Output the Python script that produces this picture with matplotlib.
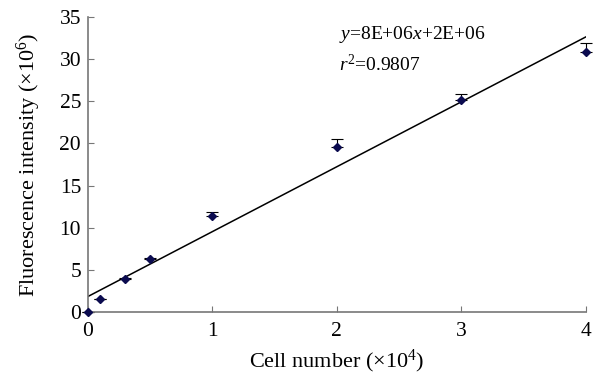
import matplotlib
matplotlib.use('Agg')
import matplotlib.pyplot as plt
import numpy as np

plt.rcParams['font.family'] = ['Liberation Serif', 'DejaVu Serif']
plt.rcParams['mathtext.fontset'] = 'custom'
plt.rcParams['mathtext.rm'] = 'Liberation Serif'
plt.rcParams['mathtext.it'] = 'Liberation Serif:italic'

# cell number (x10^4) and fluorescence (x10^6)
cells = [0, 0.1, 0.3, 0.5, 1, 2, 3, 4]
fluor = [0, 1.5, 3.9, 6.3, 11.4, 19.6, 25.1, 30.8]
err = [0, 0.05, 0.1, 0.15, 0.45, 0.9, 0.7, 1.1]
xticks = [0, 1, 2, 3, 4]
yticks = [0, 5, 10, 15, 20, 25, 30, 35]

fig = plt.figure(figsize=(5.96, 3.75), dpi=100)
ax = fig.add_axes([0.1477, 0.168, 0.835, 0.787])

# upper error bars only
eb = ax.errorbar(cells, fluor, yerr=[np.zeros(len(err)), err], fmt='none',
                 ecolor='black', elinewidth=0.8, capsize=4, capthick=0.8, zorder=2)
for art in eb.get_children():
    art.set_clip_on(False)
ax.plot(cells, fluor, linestyle='none', marker='D', markersize=4.5,
        color='#0b0b4f', zorder=3, clip_on=False)

# linear trend line
k, b = np.polyfit(cells, fluor, 1)
xl = np.array([0, 4])
ax.plot(xl, k * xl + b, color='black', linewidth=1.1, zorder=1)

ax.text(2.02, 32.9, r'$\mathit{y}$=8E+06$\mathit{x}$+2E+06', fontsize=14,
        va='center', ha='left')
ax.text(2.02, 29.3, r'$\mathit{r}^2$=0.9807', fontsize=14, va='center', ha='left')

ax.set_xlim(0, 4)
ax.set_ylim(0, 35)
ax.set_xticks(xticks)
ax.set_yticks(yticks)
for s in ['top', 'right']:
    ax.spines[s].set_visible(False)
for s in ['left', 'bottom']:
    ax.spines[s].set_color('#777777')
    ax.spines[s].set_linewidth(1.2)
ax.tick_params(direction='in', length=4, color='#777777', labelsize=15.5)
ax.tick_params(axis='x', pad=7)
ax.tick_params(axis='y', pad=5)
ax.set_xlabel(r'Cell number ($\times$10$^{4}$)', fontsize=16, labelpad=5)
ax.set_ylabel(r'Fluorescence intensity ($\times$10$^{6}$)', fontsize=16, labelpad=12)

fig.savefig('out.png', dpi=100)
